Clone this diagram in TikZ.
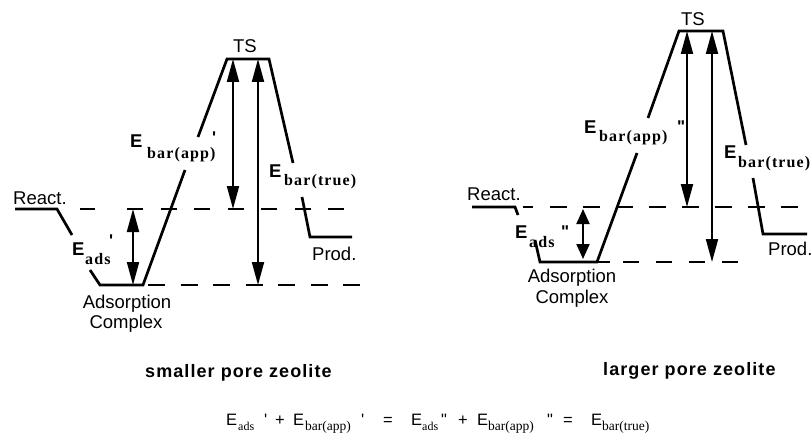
\documentclass[tikz,border=0pt]{standalone}
\usepackage{fontspec}
\setmainfont{Liberation Sans}
\newfontfamily\subfont{Liberation Serif}[LetterSpace=7]
\newfontfamily\eqsubfont{Liberation Serif}
\newfontfamily\capfont{Liberation Sans}[LetterSpace=6]
\usetikzlibrary{arrows.meta}
\begin{document}
\begin{tikzpicture}[x=1pt,y=-1pt,
  profile/.style={line width=2.7pt, line join=miter},
  leveldash/.style={line width=2.7pt, dash pattern=on 16pt off 17pt},
  bigarrow/.style={line width=2pt, {Triangle[length=23pt,width=12pt]}-{Triangle[length=23pt,width=12pt]}},
  smallarrow/.style={line width=2pt, {Triangle[length=15pt,width=13pt]}-{Triangle[length=15pt,width=13pt]}},
  lbl/.style={inner sep=0pt, font=\fontsize{18.5}{20}\selectfont},
  Elbl/.style={inner sep=0pt, anchor=base west, font=\fontsize{18.5}{20}\selectfont\bfseries},
  sublbl/.style={inner sep=0pt, anchor=base west, font=\fontsize{16}{17}\selectfont\subfont\bfseries},
  primelbl/.style={inner sep=0pt, anchor=base west, font=\fontsize{17}{18}\selectfont\bfseries},
  caplbl/.style={inner sep=0pt, anchor=base west, font=\fontsize{18}{20}\selectfont\capfont\bfseries},
  eqE/.style={inner sep=0pt, anchor=base west, font=\fontsize{16.5}{18}\selectfont},
  eqsub/.style={inner sep=0pt, anchor=base west, font=\fontsize{13.5}{14}\selectfont\eqsubfont},
  eqsubs/.style={inner sep=0pt, anchor=base west, font=\fontsize{12}{12}\selectfont\eqsubfont}
]
\path[use as bounding box] (0,0) rectangle (812,436);

% ---------------- left: smaller pore zeolite ----------------
\draw[profile] (15,209) -- (57,209) -- (72,235);
\draw[profile] (90,270) -- (100,285) -- (143,285) -- (185,170);
\draw[profile] (198,137) -- (227,59) -- (269,59) -- (293,163);
\draw[profile] (302,197) -- (310,237) -- (352,237);

\draw[line width=2.7pt] (80,209) -- (95,209);
\draw[leveldash, dash pattern=on 16pt off 17.5pt] (127,209) -- (345,209);
\draw[leveldash, dash pattern=on 17pt off 15.5pt] (148,285) -- (360,285);

\coordinate (LadsT) at (133,209);
\coordinate (LadsB) at (133,285);
\coordinate (LappT) at (233,59);
\coordinate (LappB) at (233,209);
\coordinate (LtrueT) at (258,59);
\coordinate (LtrueB) at (258,285);
\draw[bigarrow] (LadsT) -- (LadsB);
\draw[bigarrow] (LappT) -- (LappB);
\draw[bigarrow] (LtrueT) -- (LtrueB);

\node[lbl, anchor=base west] (Lreact) at (13,204) {React.};
\node[lbl, anchor=base] (Lts) at (245,52.7) {TS};
\node[lbl, anchor=base west] (Lprod) at (312,260) {Prod.};
\node[lbl, anchor=base] (Lads1) at (127,308) {Adsorption};
\node[lbl, anchor=base] (Lads2) at (126,328) {Complex};

\node[Elbl] (LappE) at (130,147) {E};
\node[sublbl] (LappS) at (147,158) {bar(app)};
\node[primelbl] (LappP) at (212,143) {\textquotesingle};
\node[Elbl] (LtrueE) at (269,177) {E};
\node[sublbl] (LtrueS) at (284,185) {bar(true)};
\node[Elbl] (LadsE) at (72,255) {E};
\node[sublbl] (LadsS) at (85,264) {ads};
\node[primelbl] (LadsP) at (109,246) {\textquotesingle};

% ---------------- right: larger pore zeolite ----------------
\draw[profile] (472,207) -- (515,207) -- (518,215);
\draw[profile] (535,240) -- (540,262) -- (597,262) -- (637,153);
\draw[profile] (648,118) -- (679,31) -- (723,31) -- (746,145);
\draw[profile] (753,178) -- (763,234) -- (807,234);

\draw[line width=2.7pt] (523,207) -- (533,207);
\draw[leveldash, dash pattern=on 17pt off 16pt] (550,207) -- (812,207);
\draw[line width=2.7pt] (597,262) -- (610,262);
\draw[leveldash] (623,262) -- (752,262);

\coordinate (RadsT) at (583,209);
\coordinate (RadsB) at (583,259);
\coordinate (RappT) at (687,31);
\coordinate (RappB) at (687,207);
\coordinate (RtrueT) at (712,31);
\coordinate (RtrueB) at (712,262);
\draw[smallarrow] (RadsT) -- (RadsB);
\draw[bigarrow] (RappT) -- (RappB);
\draw[bigarrow] (RtrueT) -- (RtrueB);

\node[lbl, anchor=base west] (Rreact) at (467,200) {React.};
\node[lbl, anchor=base] (Rts) at (693,26) {TS};
\node[lbl, anchor=base west] (Rprod) at (768,255) {Prod.};
\node[lbl, anchor=base] (Rads1) at (572,282) {Adsorption};
\node[lbl, anchor=base] (Rads2) at (572,303) {Complex};

\node[Elbl] (RappE) at (584,133) {E};
\node[sublbl] (RappS) at (599,142) {bar(app)};
\node[primelbl] (RappP) at (677,132) {\textquotedbl};
\node[Elbl] (RtrueE) at (724,158) {E};
\node[sublbl] (RtrueS) at (738,167) {bar(true)};
\node[Elbl] (RadsE) at (515,238) {E};
\node[sublbl] (RadsS) at (529,247) {ads};
\node[primelbl] (RadsP) at (561,237) {\textquotedbl};

% ---------------- captions ----------------
\node[caplbl] (capL) at (145,377) {smaller pore zeolite};
\node[caplbl] (capR) at (603,375) {larger pore zeolite};

% ---------------- equation ----------------
\node[eqE] (e1) at (226,425) {E};
\node[eqsubs] (e1s) at (238,430) {ads};
\node[eqE] (e1p) at (264,425) {\textquotesingle};
\node[eqE] (pl1) at (275,425) {+};
\node[eqE] (e2) at (293,425) {E};
\node[eqsub] (e2s) at (305,430) {bar(app)};
\node[eqE] (e2p) at (361,425) {\textquotesingle};
\node[eqE] (eq1) at (383,425) {=};
\node[eqE] (e3) at (411,425) {E};
\node[eqsubs] (e3s) at (422,430) {ads};
\node[eqE] (e3p) at (441,425) {\textquotedbl};
\node[eqE] (pl2) at (458,425) {+};
\node[eqE] (e4) at (477,425) {E};
\node[eqsub] (e4s) at (488,430) {bar(app)};
\node[eqE] (e4p) at (547,425) {\textquotedbl};
\node[eqE] (eq2) at (563,425) {=};
\node[eqE] (e5) at (591,425) {E};
\node[eqsub] (e5s) at (602,430) {bar(true)};
\end{tikzpicture}
\end{document}
